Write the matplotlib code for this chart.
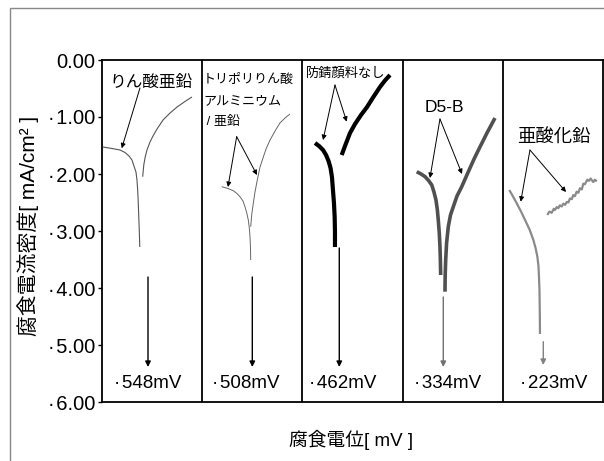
import matplotlib
matplotlib.use("Agg")
import matplotlib.pyplot as plt
from matplotlib.patches import Rectangle

plt.rcParams['font.family'] = ['Liberation Sans', 'Noto Sans CJK JP', 'DejaVu Sans']

# y ticks (corrosion current density)
yticks = [0, -1, -2, -3, -4, -5, -6]
ytick_labels = ["0.00", "·\u200a1.00", "·\u200a2.00", "·\u200a3.00", "·\u200a4.00", "·\u200a5.00", "·\u200a6.00"]

# panel names and corrosion potentials
names = ["りん酸亜鉛", "トリポリりん酸\nアルミニウム\n / 亜鉛", "防錆顔料なし", "D5-B", "亜酸化鉛"]
potentials = ["·\u200a548mV", "·\u200a508mV", "·\u200a462mV", "·\u200a334mV", "·\u200a223mV"]

# polarization curves, cathodic / anodic branch per panel (x: panel units)
cath_x = [
    [0.010, 0.100, 0.180, 0.230, 0.269, 0.299, 0.319, 0.339, 0.349, 0.356, 0.362, 0.367, 0.372, 0.375, 0.377],
    [1.195, 1.257, 1.310, 1.347, 1.377, 1.407, 1.427, 1.445, 1.460, 1.470, 1.477, 1.482, 1.484],
    [2.126, 2.166, 2.206, 2.236, 2.261, 2.281, 2.295, 2.305, 2.315, 2.322, 2.325, 2.325],
    [3.141, 3.184, 3.224, 3.259, 3.291, 3.313, 3.333, 3.347, 3.356, 3.366, 3.373, 3.377, 3.380],
    [4.065, 4.102, 4.139, 4.182, 4.222, 4.267, 4.305, 4.327, 4.345, 4.356, 4.361, 4.366, 4.368, 4.370, 4.371],
]
cath_y = [
    [-1.526, -1.553, -1.579, -1.623, -1.684, -1.754, -1.860, -1.965, -2.105, -2.281, -2.509, -2.754, -2.982, -3.158, -3.281],
    [-2.223, -2.254, -2.293, -2.342, -2.398, -2.474, -2.574, -2.684, -2.807, -2.947, -3.100, -3.298, -3.509],
    [-1.456, -1.509, -1.579, -1.667, -1.772, -1.895, -2.053, -2.281, -2.509, -2.754, -3.018, -3.281],
    [-1.960, -2.000, -2.047, -2.114, -2.193, -2.316, -2.456, -2.632, -2.807, -3.035, -3.275, -3.509, -3.772],
    [-2.281, -2.395, -2.514, -2.658, -2.807, -2.974, -3.158, -3.298, -3.451, -3.614, -3.802, -4.035, -4.268, -4.561, -4.807],
]
anod_x = [
    [0.406, 0.417, 0.431, 0.449, 0.479, 0.509, 0.549, 0.609, 0.679, 0.749, 0.828, 0.898],
    [1.484, 1.495, 1.510, 1.527, 1.544, 1.560, 1.577, 1.607, 1.637, 1.677, 1.727, 1.776, 1.826, 1.876],
    [2.392, 2.425, 2.475, 2.525, 2.585, 2.645, 2.705, 2.774, 2.824, 2.874],
    [3.423, 3.425, 3.430, 3.439, 3.456, 3.478, 3.506, 3.543, 3.590, 3.656, 3.713, 3.772, 3.842, 3.922],
    [4.444, 4.464, 4.488, 4.509, 4.521, 4.539, 4.554, 4.569, 4.588, 4.604,
     4.621, 4.639, 4.654, 4.670, 4.689, 4.703, 4.719, 4.737, 4.754, 4.770,
     4.789, 4.803, 4.819, 4.843, 4.859, 4.877, 4.889, 4.903, 4.919, 4.937],
]
anod_y = [
    [-2.047, -1.842, -1.702, -1.579, -1.439, -1.333, -1.211, -1.053, -0.930, -0.825, -0.728, -0.649],
    [-2.925, -2.702, -2.514, -2.316, -2.158, -2.018, -1.877, -1.719, -1.561, -1.404, -1.246, -1.105, -1.018, -0.947],
    [-1.667, -1.509, -1.281, -1.123, -0.965, -0.825, -0.658, -0.474, -0.360, -0.263],
    [-4.065, -3.772, -3.509, -3.211, -2.925, -2.719, -2.574, -2.386, -2.223, -1.960, -1.737, -1.526, -1.281, -1.018],
    [-2.719, -2.660, -2.680, -2.610, -2.630, -2.580, -2.600, -2.550, -2.570, -2.520,
     -2.540, -2.490, -2.500, -2.430, -2.440, -2.370, -2.390, -2.310, -2.330, -2.250,
     -2.270, -2.170, -2.180, -2.100, -2.120, -2.080, -2.110, -2.140, -2.100, -2.130],
]

# vertical arrows down to the corrosion potential
drop_x = [0.459, 1.500, 2.368, 3.406, 4.404]
drop_top = [-3.807, -3.807, -3.298, -4.158, -4.942]
drop_tip = [-5.386, -5.386, -5.386, -5.386, -5.351]

# label positions and arrow tips
label_xy = [(0.489, -0.40), (1.008, -0.25), (2.430, -0.23), (3.413, -0.84), (4.511, -1.37)]
arrow_from = [(0.379, -0.49), (1.344, -1.345), (2.325, -0.439), (3.373, -1.035), (4.271, -1.579)]
arrow_to = [
    [(0.197, -1.549)],
    [(1.257, -2.228), (1.547, -2.018)],
    [(2.206, -1.404), (2.442, -1.082)],
    [(3.273, -2.070), (3.593, -2.000)],
    [(4.179, -2.486), (4.631, -2.316)],
]
pot_x = [0.454, 1.437, 2.405, 3.453, 4.511]

colors = ["#555555", "#666666", "#000000", "#505050", "#8a8a8a"]
widths = [0.8, 0.7, 3.0, 2.6, 1.6]
drop_colors = ["black", "black", "black", "#707070", "#808080"]
label_sizes = [12, 9.4, 9.5, 12.5, 13.2]

fig = plt.figure(figsize=(6.04, 4.61), dpi=100)
ax = fig.add_axes([102/604, 1-402/461, 501/604, 342/461])

fig.patches.append(Rectangle((10/604, -0.1), 1.2, 1.1-8/461, transform=fig.transFigure,
                             fill=False, edgecolor="#888888", lw=1.0))

for i in range(5):
    ax.plot(cath_x[i], cath_y[i], color=colors[i], lw=widths[i], solid_capstyle="butt")
    ax.plot(anod_x[i], anod_y[i], color=colors[i], lw=widths[i], solid_capstyle="butt")
    ax.annotate("", xy=(drop_x[i], drop_tip[i]), xytext=(drop_x[i], drop_top[i]),
                arrowprops=dict(arrowstyle="-|>", color=drop_colors[i], lw=1.0,
                                mutation_scale=8, shrinkA=0, shrinkB=0))
    ax.text(pot_x[i], -5.667, potentials[i], fontsize=13.5, ha="center", va="center")
    for tip in arrow_to[i]:
        ax.annotate("", xy=tip, xytext=arrow_from[i],
                    arrowprops=dict(arrowstyle="-|>", color="black", lw=0.7,
                                    mutation_scale=7, shrinkA=0, shrinkB=0))

for i in [0, 2, 3, 4]:
    ax.text(label_xy[i][0], label_xy[i][1], names[i], fontsize=label_sizes[i],
            ha="center", va="center")
ax.text(label_xy[1][0], label_xy[1][1], names[1], fontsize=label_sizes[1],
        ha="left", va="top", linespacing=2.0)

for b in [1, 2, 3, 4]:
    ax.axvline(b, color="black", lw=1.3)

ax.set_xlim(0, 5)
ax.set_ylim(-6, 0)
ax.set_xticks([])
ax.set_yticks(yticks)
ax.set_yticklabels(ytick_labels, fontsize=14.5)
ax.tick_params(axis="y", length=3, width=1, pad=2)
for s in ax.spines.values():
    s.set_linewidth(1.3)

fig.text(28/604, 1-226/461, "腐食電流密度[ mA/cm² ]", rotation=90, fontsize=15,
         ha="center", va="center")
fig.text(351/604, 1-440/461, "腐食電位[ mV ]", fontsize=13.5, ha="center", va="center")

fig.savefig("out.png", dpi=100)
